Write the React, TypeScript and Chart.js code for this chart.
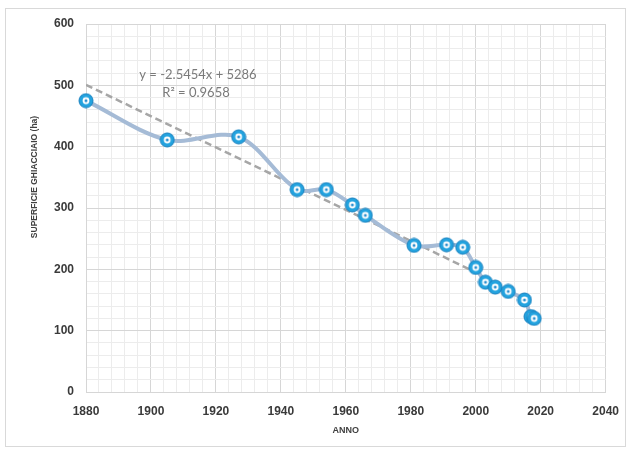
import React, { useEffect, useRef } from "react";
import { Chart, registerables } from "chart.js";

Chart.register(...registerables);

const YEARS = [1880, 1905, 1927, 1945, 1954, 1962, 1966, 1981, 1991, 1996, 2000, 2003, 2006, 2010, 2015, 2017, 2018];
const AREA = [475, 411, 416, 330, 330, 305, 288, 239, 240, 236, 203, 179, 171, 164, 150, 123, 120];

const TREND_SLOPE = -2.5454;
const TREND_INTERCEPT = 5286;
const TREND_YEARS = [1880, 2000];
const EQUATION_LINES = ["y = -2.5454x + 5286", "R\u00B2 = 0.9658"];

const X_TITLE = "ANNO";
const Y_TITLE = "SUPERFICIE GHIACCIAIO (ha)";

const X_MIN = 1880, X_MAX = 2040, X_MAJOR = 20, X_MINOR = 4;
const Y_MIN = 0, Y_MAX = 600, Y_MAJOR = 100, Y_MINOR = 20;

const LABEL_FONT = "'Liberation Sans', Arial, sans-serif";

function makeMarker(): HTMLCanvasElement {
  const c = document.createElement("canvas");
  c.width = 16;
  c.height = 16;
  const g = c.getContext("2d")!;
  g.beginPath();
  g.arc(8, 8, 7, 0, Math.PI * 2);
  g.fillStyle = "#23a3df";
  g.fill();
  g.lineWidth = 1;
  g.strokeStyle = "#1880bf";
  g.stroke();
  g.beginPath();
  g.arc(8, 8, 3.4, 0, Math.PI * 2);
  g.fillStyle = "#ffffff";
  g.fill();
  g.beginPath();
  g.arc(8, 8, 1.5, 0, Math.PI * 2);
  g.fillStyle = "#2a8fcf";
  g.fill();
  return c;
}

export default function App() {
  const ref = useRef<HTMLCanvasElement | null>(null);

  useEffect(() => {
    if (!ref.current) return;
    const marker = makeMarker();
    const textPlugin = {
      id: "texts",
      afterDraw(chart: any) {
        const { ctx, chartArea } = chart;
        ctx.save();
        ctx.fillStyle = "#404040";
        ctx.textAlign = "center";
        ctx.textBaseline = "middle";
        ctx.save();
        ctx.translate(35, chartArea.top + 153);
        ctx.rotate(-Math.PI / 2);
        ctx.font = "bold 8.5px " + LABEL_FONT;
        ctx.fillText(Y_TITLE, 0, 0);
        ctx.restore();
        ctx.font = "bold 9px " + LABEL_FONT;
        ctx.fillText(X_TITLE, (chartArea.left + chartArea.right) / 2, chartArea.bottom + 39);
        ctx.fillStyle = "#7a7a7a";
        ctx.font = "13px Lato";
        ctx.fillText(EQUATION_LINES[0], chartArea.left + 112, chartArea.top + 51);
        ctx.fillText(EQUATION_LINES[1], chartArea.left + 110, chartArea.top + 69);
        ctx.restore();
      },
    };

    const chart = new Chart(ref.current, {
      type: "line",
      data: {
        datasets: [
          {
            label: "data",
            data: YEARS.map((x, i) => ({ x, y: AREA[i] })),
            borderColor: "#a5bbd6",
            borderWidth: 4,
            tension: 0.33,
            pointStyle: marker as any,
            pointRadius: 7,
            clip: false,
            order: 1,
          },
          {
            label: "trend",
            data: TREND_YEARS.map((x) => ({ x, y: TREND_SLOPE * x + TREND_INTERCEPT })),
            borderColor: "#a6a6a6",
            borderWidth: 2.5,
            borderDash: [7, 4],
            pointRadius: 0,
            tension: 0,
            order: 2,
          },
        ],
      },
      options: {
        responsive: false,
        animation: false,
        layout: { padding: { top: 24, right: 22, left: 0, bottom: 0 } },
        plugins: { legend: { display: false }, tooltip: { enabled: false } },
        scales: {
          x: {
            type: "linear",
            min: X_MIN,
            max: X_MAX,
            afterFit: (s: any) => { s.height = 60; },
            ticks: {
              stepSize: X_MINOR,
              autoSkip: false,
              maxRotation: 0,
              padding: 12,
              color: "#3a3a3a",
              font: { family: LABEL_FONT, size: 12, weight: "bold" },
              callback: (v: any) => (Number(v) % X_MAJOR === 0 ? String(v) : ""),
            },
            grid: {
              drawTicks: false,
              color: (c: any) => (c.tick && c.tick.value % X_MAJOR === 0 ? "#d6d6d6" : "#ececec"),
            },
            border: { display: true, color: "#d6d6d6" },
          },
          y: {
            type: "linear",
            min: Y_MIN,
            max: Y_MAX,
            afterFit: (s: any) => { s.width = 86; },
            ticks: {
              stepSize: Y_MINOR,
              autoSkip: false,
              padding: 12,
              color: "#3a3a3a",
              font: { family: LABEL_FONT, size: 12, weight: "bold" },
              callback: (v: any) => (Number(v) % Y_MAJOR === 0 ? String(v) : ""),
            },
            grid: {
              drawTicks: false,
              color: (c: any) => (c.tick && c.tick.value % Y_MAJOR === 0 ? "#d6d6d6" : "#ececec"),
            },
            border: { display: true, color: "#d6d6d6" },
          },
        },
      },
      plugins: [textPlugin],
    } as any);
    return () => chart.destroy();
  }, []);

  return (
    <div style={{ position: "absolute", left: 0, top: 0, width: 631, height: 452, background: "#ffffff" }}>
      <div
        style={{
          position: "absolute",
          left: 5,
          top: 8,
          width: 621,
          height: 439,
          border: "1px solid #d9d9d9",
          boxSizing: "border-box",
        }}
      />
      <canvas ref={ref} width={631} height={452} style={{ position: "absolute", left: 0, top: 0 }} />
    </div>
  );
}
